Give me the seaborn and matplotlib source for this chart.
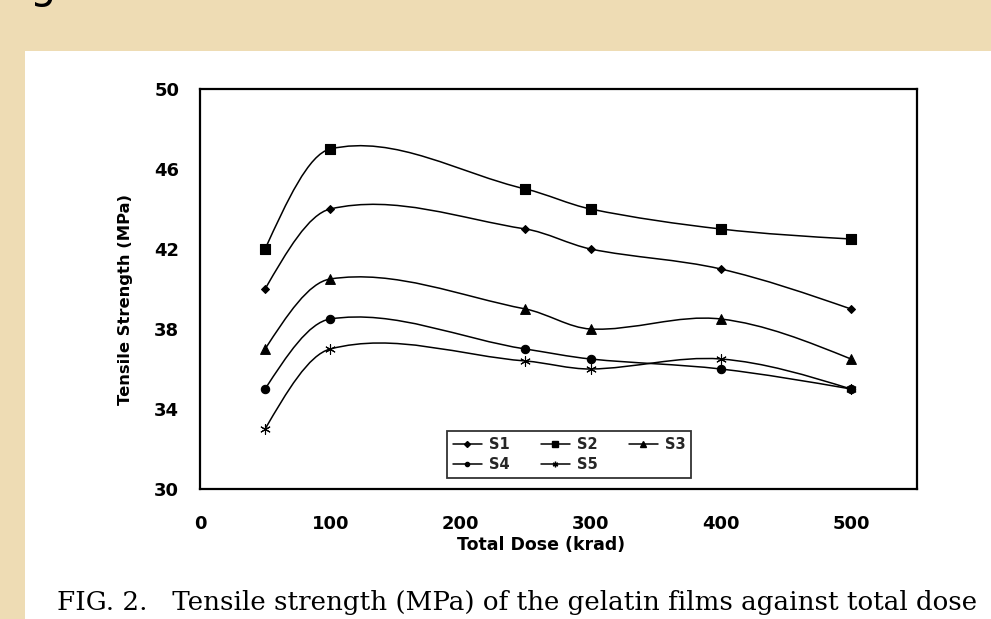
import numpy as np
import pandas as pd
import seaborn as sns
import matplotlib
matplotlib.use("Agg")
import matplotlib.pyplot as plt
from matplotlib.path import Path
from matplotlib.patches import PathPatch, Rectangle
from matplotlib.lines import Line2D

# Tensile strength (MPa) of gelatin films vs. total dose (krad)
dose = [50, 100, 250, 300, 400, 500]
s1 = [40.0, 44.0, 43.0, 42.0, 41.0, 39.0]
s2 = [42.0, 47.0, 45.0, 44.0, 43.0, 42.5]
s3 = [37.0, 40.5, 39.0, 38.0, 38.5, 36.5]
s4 = [35.0, 38.5, 37.0, 36.5, 36.0, 35.0]
s5 = [33.0, 37.0, 36.4, 36.0, 36.5, 35.0]
series_names = ["S1", "S2", "S3", "S4", "S5"]
x_ticks = [0, 100, 200, 300, 400, 500]
y_ticks = [30, 34, 38, 42, 46, 50]
caption = "FIG. 2.   Tensile strength (MPa) of the gelatin films against total dose"

sns.set_theme(style="white")
plt.rcParams["font.family"] = ["DejaVu Sans"]

df = pd.DataFrame({
    "dose": dose * 5,
    "strength": s1 + s2 + s3 + s4 + s5,
    "series": [n for n in series_names for _ in dose],
})

markers = {"S1": "D", "S2": "s", "S3": "^", "S4": "o", "S5": (6, 2, 0)}
msizes = {"S1": 4, "S2": 7, "S3": 7, "S4": 6, "S5": 7}

fig = plt.figure(figsize=(9.91, 6.19), dpi=100)
parchment = "#eedcb4"
fig.patch.set_facecolor(parchment)

# white slide panel behind the chart
fig.patches.append(Rectangle((25 / 991, 0), 1, 1 - 51 / 619, transform=fig.transFigure,
                             facecolor="white", edgecolor="none", zorder=-5))
# descender of the slide heading, cut by the top edge
fig.text(30 / 991, 1 + 2 / 619, "g", fontsize=30, color="black", ha="left",
         va="baseline", family="DejaVu Sans")

ax = fig.add_axes([200 / 991, 1 - 489 / 619, 717 / 991, 400 / 619])
ax.set_facecolor("white")
ax.set_zorder(2)


def smooth_path(xs, ys):
    """Cubic Hermite curve (as Bezier segments) through the points."""
    x = np.asarray(xs, float)
    y = np.asarray(ys, float)
    n = len(x)
    m = np.empty(n)
    for i in range(1, n - 1):
        m[i] = (y[i + 1] - y[i - 1]) / (x[i + 1] - x[i - 1])
    # quadratic end conditions
    m[0] = 1.5 * (y[1] - y[0]) / (x[1] - x[0]) - 0.5 * m[1]
    m[-1] = 1.5 * (y[-1] - y[-2]) / (x[-1] - x[-2]) - 0.5 * m[-2]
    verts = [(x[0], y[0])]
    codes = [Path.MOVETO]
    for i in range(n - 1):
        h = (x[i + 1] - x[i]) / 3.0
        verts += [(x[i] + h, y[i] + m[i] * h),
                  (x[i + 1] - h, y[i + 1] - m[i + 1] * h),
                  (x[i + 1], y[i + 1])]
        codes += [Path.CURVE4] * 3
    return Path(verts, codes)


for name in series_names:
    sub = df[df.series == name]
    ax.add_patch(PathPatch(smooth_path(sub.dose.values, sub.strength.values),
                           facecolor="none", edgecolor="black", lw=1.1, zorder=2))
    sns.scatterplot(data=sub, x="dose", y="strength", marker=markers[name],
                    s=msizes[name] ** 2, color="black", edgecolor="black",
                    linewidth=0.8, ax=ax, zorder=3, legend=False)

ax.set_xlim(0, 550.7)
ax.set_ylim(30, 50)
ax.set_xticks(x_ticks)
ax.set_yticks(y_ticks)
for sp in ax.spines.values():
    sp.set_visible(True)
    sp.set_color("black")
    sp.set_linewidth(1.6)
ax.tick_params(axis="both", direction="out", length=6, width=1.3, color="black",
               labelsize=13, labelcolor="black")
ax.tick_params(axis="x", pad=13)
ax.tick_params(axis="y", pad=9)
for lab in ax.get_xticklabels() + ax.get_yticklabels():
    lab.set_fontweight("bold")

ax.set_xlabel("Total Dose (krad)", fontsize=12.5, fontweight="bold", color="black")
ax.set_ylabel("Tensile Strength (MPa)", fontsize=11.8, fontweight="bold", color="black")
ax.xaxis.set_label_coords(0.476, -0.118)
ax.yaxis.set_label_coords(-0.093, 0.473)

# legend filled row by row: S1 S2 S3 / S4 S5
order = ["S1", "S4", "S2", "S5", "S3"]
handles = [Line2D([], [], color="black", lw=1.1, marker=markers[n],
                  markersize=max(msizes[n] - 3, 3), markerfacecolor="black")
           for n in order]
leg = ax.legend(handles, order, ncol=3, loc="lower left",
                bbox_to_anchor=((447 - 200) / 717, (489 - 478) / 400),
                frameon=True, fancybox=False, edgecolor="black",
                prop={"size": 10.5, "weight": "bold"}, handlelength=2.0,
                handletextpad=0.5, columnspacing=2.1, labelspacing=0.35,
                borderpad=0.4, borderaxespad=0)
leg.get_frame().set_linewidth(1.3)

fig.text(57 / 991, 1 - 610 / 619, caption, fontsize=18.8, family="DejaVu Serif",
         color="black", ha="left", va="baseline")

fig.savefig("out.png", dpi=100, facecolor=fig.get_facecolor())
